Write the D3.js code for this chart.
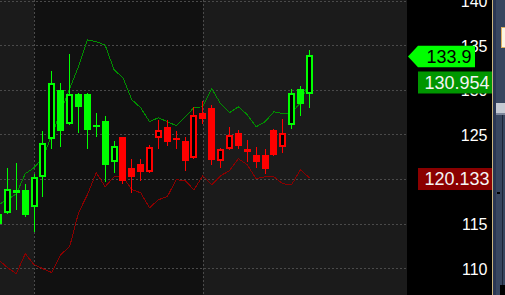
<!DOCTYPE html>
<html>
<head>
<meta charset="utf-8">
<script src="https://cdn.jsdelivr.net/npm/d3@7/dist/d3.min.js"></script>
<style>
  html, body { margin: 0; padding: 0; background: #000; overflow: hidden; }
  svg { display: block; font-family: "Liberation Sans", Arial, sans-serif; }
</style>
</head>
<body>
<div id="chart"></div>
<script>
// daily bars, oldest first (first one is cut off at the left edge)
var open  = [114.96, 116.19, 118.77, 118.77, 116.86, 120.22, 124.48, 129.98, 126.17, 129.53,
             129.53, 126.05, 126.50, 121.91, 124.71, 121.23, 121.68, 120.79, 124.60, 125.83,
             124.60, 124.26, 122.35, 127.40, 127.96, 122.02, 123.36, 125.16, 123.36, 122.69,
             122.69, 125.49, 123.59, 126.05, 130.09, 129.53];
var high  = [116.53, 121.23, 121.79, 119.44, 120.56, 125.38, 132.11, 130.76, 134.01, 129.60,
             129.60, 127.40, 127.06, 124.26, 124.75, 122.24, 122.24, 123.81, 126.61, 126.61,
             125.38, 124.71, 128.07, 128.74, 128.30, 123.48, 125.83, 125.49, 124.37, 123.59,
             123.36, 125.55, 126.73, 130.09, 130.43, 134.46];
var low   = [114.51, 116.10, 116.53, 115.74, 114.06, 117.98, 123.36, 123.59, 126.10, 125.16,
             123.36, 124.71, 119.66, 120.67, 119.44, 118.43, 119.78, 120.67, 123.36, 123.70,
             123.36, 120.90, 122.24, 126.17, 121.57, 121.23, 123.25, 123.36, 121.91, 121.23,
             120.56, 122.58, 122.91, 125.61, 127.06, 127.96];
var close = [116.08, 118.88, 118.43, 115.96, 120.22, 124.04, 130.76, 125.38, 129.53, 128.07,
             125.49, 126.05, 121.57, 123.70, 119.78, 120.22, 120.79, 123.59, 125.49, 124.15,
             124.37, 122.02, 127.17, 126.73, 122.13, 123.36, 124.93, 123.70, 123.03, 121.91,
             121.12, 122.69, 125.16, 129.64, 128.41, 133.90];
// trend state of each bar (sets candle colour)
var trend = ['up', 'up', 'up', 'up', 'up', 'up', 'up', 'up', 'up', 'up',
             'up', 'up', 'up', 'up', 'down', 'down', 'down', 'down', 'down', 'down',
             'down', 'down', 'down', 'down', 'down', 'down', 'down', 'down', 'down', 'down',
             'down', 'down', 'down', 'up', 'up', 'up'];
var upperBand = [117.12, 117.68, 118.35, 120.59, 121.27, 122.39, 124.97, 127.54, 130.12, 132.60,
                 135.60, 135.40, 135.00, 132.25, 131.36, 128.89, 127.99, 126.42, 126.87, 126.42,
                 125.98, 126.98, 127.99, 128.10, 130.12, 128.44, 127.43, 128.10, 127.21, 125.86,
                 126.42, 127.54, 127.32, 127.43, 128.55, 130.954];
var lowerBand = [110.95, 110.06, 109.38, 111.63, 110.39, 109.94, 109.50, 111.52, 112.41, 116.22,
                 118.24, 120.71, 119.14, 120.26, 120.26, 118.80, 118.46, 116.78, 117.68, 118.02,
                 119.92, 119.81, 118.80, 120.37, 119.36, 120.37, 120.93, 122.28, 121.60, 120.03,
                 120.26, 120.26, 119.47, 119.36, 121.04, 120.133];
var periodStarts = [4, 23];
var priceTicks = [110, 115, 120, 125, 130, 135, 140];

var width = 505, height = 295;
var plotRight = 407, axisRight = 492;
var colors = { up: '#00ff00', down: '#ff0000' };

var x = d3.scaleLinear().domain([0, close.length - 1]).range([-1.4, 309.4]);
var y = d3.scaleLinear().domain([110, 140]).range([268.2, 0.6]);

var svg = d3.select('#chart').append('svg')
  .attr('width', width).attr('height', height)
  .style('background', '#000');

// background bands between period separators
var edges = [0].concat(periodStarts.map(function (i) { return Math.round(x(i)); }), [plotRight]);
for (var b = 0; b < edges.length - 1; b++) {
  svg.append('rect')
    .attr('x', edges[b]).attr('y', 0)
    .attr('width', edges[b + 1] - edges[b]).attr('height', height)
    .style('fill', b % 2 ? '#111111' : '#1b1b1b');
}

// grid
svg.append('g').selectAll('line').data(priceTicks).enter().append('line')
  .attr('x1', 0).attr('x2', plotRight)
  .attr('y1', function (d) { return Math.round(y(d)) + 0.5; })
  .attr('y2', function (d) { return Math.round(y(d)) + 0.5; })
  .style('stroke', '#4a4a4a').style('stroke-dasharray', '2,2');
svg.append('g').selectAll('line').data(periodStarts).enter().append('line')
  .attr('x1', function (d) { return Math.round(x(d)) + 0.5; })
  .attr('x2', function (d) { return Math.round(x(d)) + 0.5; })
  .attr('y1', 0).attr('y2', height)
  .style('stroke', '#4a4a4a').style('stroke-dasharray', '2,2');

// bands
var idx = d3.range(close.length);
var bandLine = function (arr) {
  return d3.line().x(function (i) { return x(i); }).y(function (i) { return y(arr[i]); })(idx);
};
svg.append('path').attr('d', bandLine(upperBand))
  .style('fill', 'none').style('stroke', '#009000').style('shape-rendering', 'crispEdges');
svg.append('path').attr('d', bandLine(lowerBand))
  .style('fill', 'none').style('stroke', '#8a0000').style('shape-rendering', 'crispEdges');

// candles
var candles = svg.append('g').selectAll('g').data(idx).enter().append('g')
  .style('shape-rendering', 'crispEdges');
candles.append('line')
  .attr('x1', function (i) { return Math.round(x(i) - 3.5) + 3.5; })
  .attr('x2', function (i) { return Math.round(x(i) - 3.5) + 3.5; })
  .attr('y1', function (i) { return y(high[i]); })
  .attr('y2', function (i) { return y(low[i]); })
  .style('stroke', function (i) { return colors[trend[i]]; });
candles.append('rect')
  .attr('x', function (i) { return Math.round(x(i) - 3.5) + (close[i] > open[i] ? 1 : 0); })
  .attr('width', function (i) { return close[i] > open[i] ? 5 : 7; })
  .attr('y', function (i) {
    var t = y(Math.max(open[i], close[i]));
    return close[i] > open[i] ? t + 1 : t;
  })
  .attr('height', function (i) {
    var h = Math.max(2, Math.abs(y(open[i]) - y(close[i])));
    return close[i] > open[i] ? h - 2 : h;
  })
  .style('fill', function (i) { return close[i] > open[i] ? '#000' : colors[trend[i]]; })
  .style('stroke', function (i) { return close[i] > open[i] ? colors[trend[i]] : 'none'; })
  .style('stroke-width', 2);

// price axis
svg.append('rect').attr('x', plotRight).attr('y', 0)
  .attr('width', axisRight - plotRight).attr('height', height).style('fill', '#000');
var yAxis = d3.axisRight(y).tickValues(priceTicks).tickSize(0).tickPadding(0);
var axisG = svg.append('g').attr('transform', 'translate(487.5,1)').call(yAxis);
axisG.select('.domain').remove();
axisG.selectAll('text')
  .attr('text-anchor', 'end').attr('x', 0)
  .style('fill', '#fff').style('font-size', '16px')
  .style('font-family', '"Liberation Sans", Arial, sans-serif');

// last value markers
var lastIdx = close.length - 1;
var cy = y(close[lastIdx]) + 1.5;
svg.append('polygon')
  .attr('points', [[408, cy], [418, cy - 10.8], [475, cy - 10.8], [475, cy + 10.8], [418, cy + 10.8]].join(' '))
  .style('fill', '#00ff00');
svg.append('text').attr('x', 471.5).attr('y', cy).attr('dy', '0.36em')
  .attr('text-anchor', 'end').style('font-size', '18px').style('fill', '#000')
  .text(d3.format('.1f')(close[lastIdx]));

var markers = [
  { v: upperBand[lastIdx], fill: '#009600' },
  { v: lowerBand[lastIdx], fill: '#8b0000' }
];
markers.forEach(function (m) {
  var my = y(m.v) + 1.2;
  svg.append('rect').attr('x', 418).attr('y', my - 11)
    .attr('width', 74).attr('height', 22).style('fill', m.fill);
  svg.append('text').attr('x', 489.5).attr('y', my).attr('dy', '0.36em')
    .attr('text-anchor', 'end').style('font-size', '18px').style('fill', '#f4f4f4')
    .text(d3.format('.3f')(m.v));
});

// window edge on the right
svg.append('rect').attr('x', 492).attr('y', 0).attr('width', 1).attr('height', height).style('fill', '#cbb57e');
svg.append('rect').attr('x', 493).attr('y', 0).attr('width', 12).attr('height', height).style('fill', '#2a3652');
svg.append('rect').attr('x', 496).attr('y', 0).attr('width', 9).attr('height', height).style('fill', '#38465f');
svg.append('rect').attr('x', 501.5).attr('y', 27.5).attr('width', 5).attr('height', 20)
  .style('fill', '#fdf6e3').style('stroke', '#e0b060');
svg.append('rect').attr('x', 496).attr('y', 103).attr('width', 9).attr('height', 10).style('fill', '#c5cad3');
svg.append('rect').attr('x', 496).attr('y', 113).attr('width', 9).attr('height', 2).style('fill', '#7d869a');
svg.append('rect').attr('x', 502).attr('y', 115).attr('width', 1).attr('height', 180).style('fill', '#1c2436');
svg.append('rect').attr('x', 497).attr('y', 192).attr('width', 3).attr('height', 2).style('fill', '#000');
svg.append('rect').attr('x', 500).attr('y', 285).attr('width', 5).attr('height', 10).style('fill', '#000');
</script>
</body>
</html>
